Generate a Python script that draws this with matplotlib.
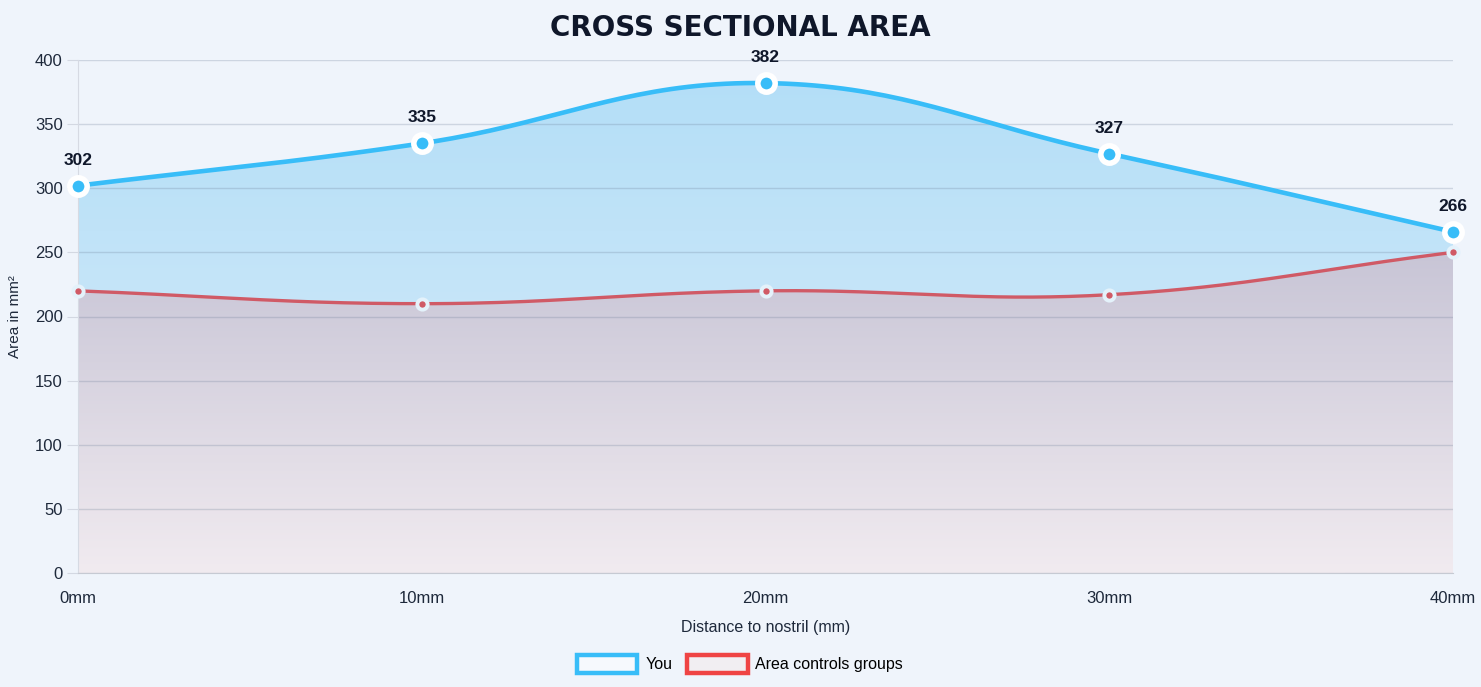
import numpy as np
import matplotlib
matplotlib.use("Agg")
import matplotlib.pyplot as plt
from matplotlib.colors import LinearSegmentedColormap
from matplotlib.patches import Polygon, Patch

distance_mm = [0, 10, 20, 30, 40]
tick_labels = ["0mm", "10mm", "20mm", "30mm", "40mm"]
you_area = [302, 335, 382, 327, 266]
control_area = [220, 210, 220, 217, 250]

BG = "#eff4fb"
BLUE = "#38bdf8"
RED = "#d05a66"
TEXT = "#0f172a"

W, H = 1481, 687
x_px = 1375 / 40.0      # pixels per mm on screen
y_px = 513 / 400.0      # pixels per unit on screen


def chartjs_spline(xs, ys, tension=0.4, n=40):
    # same control points as chart.js splineCurve, in screen space
    px = np.array(xs, float) * x_px
    py = np.array(ys, float) * y_px
    cps = []
    for i in range(len(px)):
        a = max(i - 1, 0)
        b = min(i + 1, len(px) - 1)
        d01 = np.hypot(px[i] - px[a], py[i] - py[a])
        d12 = np.hypot(px[b] - px[i], py[b] - py[i])
        tot = d01 + d12
        s01 = d01 / tot if tot else 0
        s12 = d12 / tot if tot else 0
        fa, fb = tension * s01, tension * s12
        prev = (px[i] - fa * (px[b] - px[a]), py[i] - fa * (py[b] - py[a]))
        nxt = (px[i] + fb * (px[b] - px[a]), py[i] + fb * (py[b] - py[a]))
        cps.append((prev, nxt))
    out_x, out_y = [], []
    t = np.linspace(0, 1, n)
    for i in range(len(px) - 1):
        p0 = np.array([px[i], py[i]])
        p1 = np.array(cps[i][1])
        p2 = np.array(cps[i + 1][0])
        p3 = np.array([px[i + 1], py[i + 1]])
        seg = ((1 - t) ** 3)[:, None] * p0 + (3 * (1 - t) ** 2 * t)[:, None] * p1 \
            + (3 * (1 - t) * t ** 2)[:, None] * p2 + (t ** 3)[:, None] * p3
        out_x.extend(seg[:, 0] / x_px)
        out_y.extend(seg[:, 1] / y_px)
    return np.array(out_x), np.array(out_y)


def gradient_fill(ax, cx, cy, c_top, c_bot, y_top, y_bot, z):
    cmap = LinearSegmentedColormap.from_list("g", [c_bot, c_top])
    grad = np.linspace(0, 1, 256).reshape(-1, 1)
    im = ax.imshow(grad, cmap=cmap, aspect="auto", origin="lower",
                   extent=[cx.min(), cx.max(), y_bot, y_top], zorder=z)
    verts = np.column_stack([np.r_[cx, cx[-1], cx[0]], np.r_[cy, 0, 0]])
    poly = Polygon(verts, closed=True, facecolor="none", edgecolor="none")
    ax.add_patch(poly)
    im.set_clip_path(poly)


fig = plt.figure(figsize=(W / 100, H / 100), dpi=100, facecolor=BG)
ax = fig.add_axes([78 / W, 1 - 573 / H, 1375 / W, 513 / H])
ax.set_facecolor(BG)

bx, by = chartjs_spline(distance_mm, you_area)
rx, ry = chartjs_spline(distance_mm, control_area)

gradient_fill(ax, bx, by, "#b2def7", "#dcedfa", 400, 0, 1)
gradient_fill(ax, rx, ry, "#c8c5d6", "#f1ebf0", 250, 0, 2)

ax.plot(bx, by, color=BLUE, lw=3.3, zorder=5, solid_capstyle="round")
ax.plot(rx, ry, color=RED, lw=2.4, zorder=4, solid_capstyle="round")
ax.plot(distance_mm, you_area, "o", ms=12.5, mfc=BLUE, mec="white", mew=4,
        zorder=7, clip_on=False)
ax.plot(distance_mm, control_area, "o", ms=7.4, mfc=RED, mec="#e4f2fb", mew=2.8,
        zorder=6, clip_on=False)

for xv, yv in zip(distance_mm, you_area):
    ax.annotate(str(yv), (xv, yv), xytext=(0, 13), textcoords="offset points",
                ha="center", va="bottom", fontsize=12.5, fontweight="bold",
                color=TEXT, family="Liberation Sans", zorder=8)

ax.set_xlim(0, 40)
ax.set_ylim(0, 400)
ax.set_yticks(range(0, 401, 50))
ax.set_xticks(distance_mm)
ax.set_xticklabels(tick_labels)
ax.grid(axis="y", color="#6b7c96", alpha=0.25, lw=1, zorder=3)
ax.set_axisbelow(False)
for s in ["top", "right"]:
    ax.spines[s].set_visible(False)
ax.spines["left"].set_color("#d6dae3")
ax.spines["bottom"].set_color("#c6cad3")
ax.spines["left"].set_zorder(3)
ax.spines["bottom"].set_zorder(3)
ax.tick_params(axis="y", length=8, color="#d3d8e2", pad=3, labelsize=12,
               labelcolor="#1e293b")
ax.tick_params(axis="x", length=0, pad=13, labelsize=12, labelcolor="#1e293b")
for lab in ax.get_xticklabels() + ax.get_yticklabels():
    lab.set_family("Liberation Sans")

ax.set_xlabel("Distance to nostril (mm)", fontsize=11.5, color="#1e293b",
              family="Liberation Sans", labelpad=10)
ax.set_ylabel("Area in mm²", fontsize=11, color="#1e293b",
              family="Liberation Sans", labelpad=9)

fig.text(0.5, 1 - 28 / H, "CROSS SECTIONAL AREA", ha="center", va="center",
         fontsize=20, fontweight="heavy", color=TEXT, family="DejaVu Sans")

handles = [Patch(facecolor="#f6f9fd", edgecolor=BLUE, lw=3.2),
           Patch(facecolor="#f1eef2", edgecolor="#ef4444", lw=3.2)]
fig.legend(handles, ["You", "Area controls groups"], loc="center",
           bbox_to_anchor=(740 / W, 1 - 664 / H), ncol=2, frameon=False,
           handlelength=3.8, handleheight=1.35, handletextpad=0.5,
           columnspacing=0.9, prop={"family": "Liberation Sans", "size": 11.5})

fig.savefig("out.png", dpi=100, facecolor=BG)
